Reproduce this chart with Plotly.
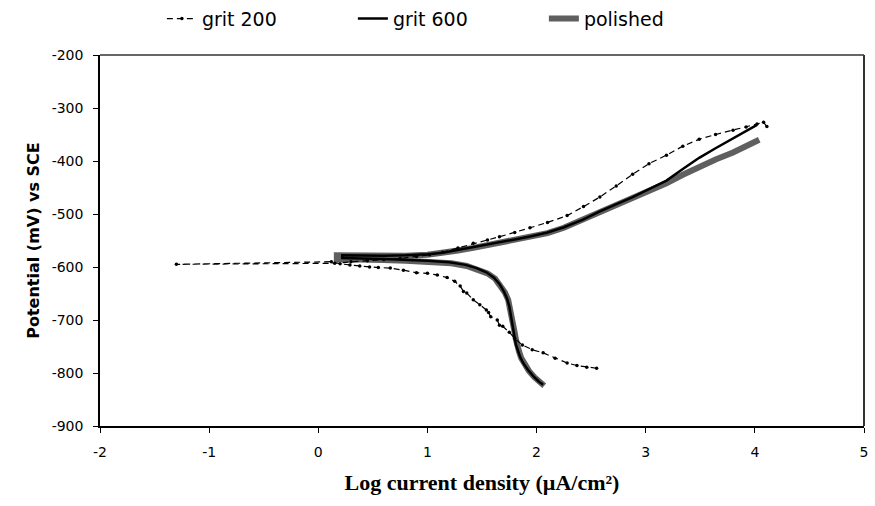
import plotly.graph_objects as go

# Tafel curves: log i (uA/cm2) vs potential (mV vs SCE)
grit200_x = [2.55, 2.46, 2.37, 2.28, 2.17, 2.06, 1.96, 1.87, 1.80, 1.75, 1.69, 1.66, 1.64, 1.58,
             1.56, 1.54, 1.48, 1.42, 1.36, 1.33, 1.30, 1.25, 1.18, 1.09, 1.00, 0.90, 0.78, 0.66,
             0.55, 0.47, 0.38, 0.29, 0.20, 0.12, -1.30, 0.15, 0.30, 0.45, 0.60, 0.75, 0.90, 1.02,
             1.14, 1.28, 1.42, 1.55, 1.66, 1.80, 1.94, 2.10, 2.28, 2.43, 2.58, 2.73, 2.88, 3.03,
             3.19, 3.34, 3.49, 3.64, 3.80, 3.92, 4.02, 4.08, 4.11]
grit200_y = [-791, -789, -786, -781, -772, -762, -756, -747, -735, -723, -712, -710, -700, -694,
             -686, -681, -671, -662, -649, -646, -636, -627, -620, -615, -612, -611, -606, -602,
             -601, -600, -598, -596, -594, -590, -595, -593, -590, -588, -586, -584, -580, -577,
             -572, -564, -555, -549, -543, -535, -526, -516, -503, -486, -468, -447, -425, -405,
             -389, -372, -359, -350, -342, -336, -330, -327, -335]

grit600_x = [2.06, 2.02, 1.97, 1.92, 1.88, 1.85, 1.83, 1.81, 1.80, 1.79, 1.78, 1.77, 1.76, 1.75,
             1.73, 1.70, 1.66, 1.61, 1.54, 1.45, 1.35, 1.20, 1.00, 0.80, 0.60, 0.40, 0.22, 0.22,
             0.40, 0.60, 0.80, 1.00, 1.14, 1.28, 1.42, 1.55, 1.66, 1.80, 1.95, 2.10, 2.25, 2.42,
             2.58, 2.73, 2.88, 3.03, 3.19, 3.34, 3.49, 3.64, 3.80, 3.92, 4.02]
grit600_y = [-822, -816, -806, -794, -782, -770, -758, -746, -734, -722, -710, -698, -686, -674,
             -660, -646, -632, -620, -610, -602, -596, -591, -588, -586, -585, -584, -583, -578,
             -579, -579, -578, -576, -573, -568, -562, -558, -554, -548, -542, -535, -525, -511,
             -495, -482, -468, -453, -437, -415, -394, -376, -357, -344, -332]

polished_x = [2.07, 2.03, 1.98, 1.93, 1.89, 1.86, 1.84, 1.82, 1.81, 1.80, 1.79, 1.78, 1.77, 1.76,
              1.74, 1.71, 1.67, 1.62, 1.55, 1.46, 1.36, 1.22, 1.02, 0.80, 0.60, 0.40, 0.17, 0.17,
              0.40, 0.60, 0.80, 1.00, 1.14, 1.28, 1.42, 1.55, 1.66, 1.80, 1.95, 2.10, 2.25, 2.42,
              2.58, 2.73, 2.88, 3.03, 3.19, 3.34, 3.49, 3.64, 3.80, 3.92, 4.04]
polished_y = [-824, -818, -808, -796, -784, -772, -760, -748, -736, -724, -712, -700, -688, -676,
              -662, -648, -634, -622, -612, -604, -598, -593, -590, -588, -587, -586, -585, -578,
              -579, -580, -579, -577, -574, -569, -564, -559, -555, -549, -543, -536, -526, -511,
              -496, -483, -469, -456, -442, -426, -411, -397, -384, -372, -360]

# tick labels with a plain hyphen, as in the original
x_ticks = [-2, -1, 0, 1, 2, 3, 4, 5]
x_labels = ["-2", "-1", "0", "1", "2", "3", "4", "5"]
y_ticks = [-900, -800, -700, -600, -500, -400, -300, -200]
y_labels = ["-900", "-800", "-700", "-600", "-500", "-400", "-300", "-200"]

fig = go.Figure()

fig.add_trace(go.Scatter(x=polished_x, y=polished_y, mode="lines", name="polished",
                         line=dict(color="#5f5f5f", width=6), legendrank=3))
fig.add_trace(go.Scatter(x=grit600_x, y=grit600_y, mode="lines", name="grit 600",
                         line=dict(color="black", width=2.5), legendrank=2))
fig.add_trace(go.Scatter(x=grit200_x, y=grit200_y, mode="lines+markers", name="grit 200",
                         line=dict(color="black", width=1.2, dash="6px,4px"),
                         marker=dict(size=3.5, color="black"), legendrank=1))

# gray frame on top and right, like the original
fig.add_shape(type="line", xref="paper", yref="paper", x0=0, x1=1, y0=1, y1=1,
              line=dict(color="#666666", width=2))
fig.add_shape(type="line", xref="paper", yref="paper", x0=1, x1=1, y0=0, y1=1,
              line=dict(color="#333333", width=2))

fig.update_layout(
    width=875, height=506,
    margin=dict(l=100, r=11, t=55, b=80, autoexpand=False),
    plot_bgcolor="white", paper_bgcolor="white",
    font=dict(family="DejaVu Sans", size=14, color="black"),
    legend=dict(orientation="h", xref="container", yref="container",
                x=0.185, y=0.963, xanchor="left", yanchor="middle",
                font=dict(size=19), entrywidth=146, entrywidthmode="pixels"),
    xaxis=dict(range=[-2, 5], tickvals=x_ticks, ticktext=x_labels, showgrid=False,
               zeroline=False, automargin=False, ticklabelstandoff=7,
               showline=True, linecolor="black", linewidth=1.5,
               ticks="outside", ticklen=5, tickcolor="black",
               title=dict(text="Log current density (µA/cm²)",
                          font=dict(family="Liberation Serif", size=22, weight="bold"),
                          standoff=16)),
    yaxis=dict(range=[-900, -200], tickvals=y_ticks, ticktext=y_labels, showgrid=False,
               zeroline=False, automargin=False, ticklabelstandoff=7,
               showline=True, linecolor="black", linewidth=1.5,
               ticks="outside", ticklen=5, tickcolor="black",
               title=dict(text="Potential (mV) vs SCE",
                          font=dict(size=16, weight="bold"), standoff=8)),
)

fig.write_html("out.html", config={"displayModeBar": False},
               post_script="document.body.style.margin = '0';")
